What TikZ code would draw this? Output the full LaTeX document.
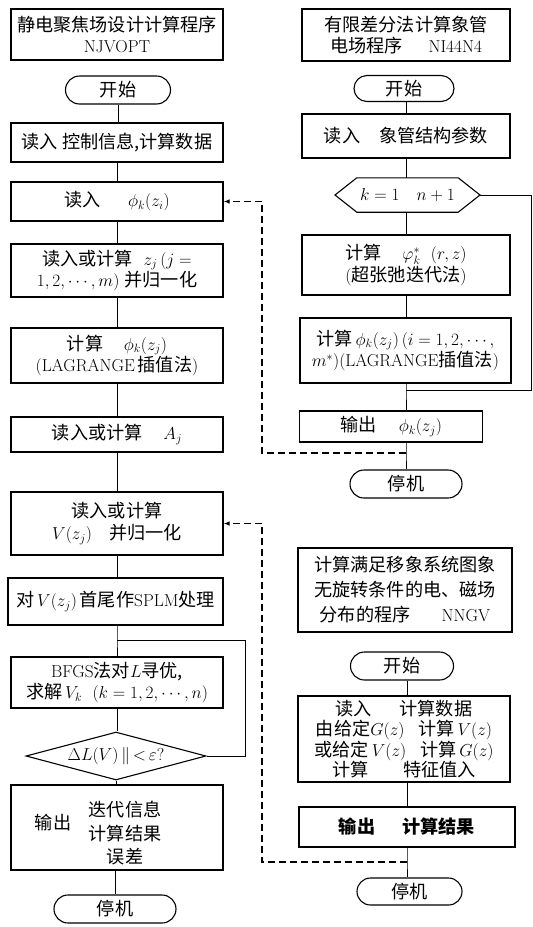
\documentclass[tikz,border=0pt]{standalone}
\usepackage{fontspec}
\newfontfamily\cjk{Noto Sans CJK SC}[Scale=1.05]
\newcommand\zh[1]{{\cjk #1}}
\usetikzlibrary{shapes.misc,shapes.geometric,arrows.meta}
\begin{document}
\begin{tikzpicture}[x=1pt,y=-1pt,
  every node/.style={font=\fontsize{17.28}{21.5}\selectfont},
  box/.style={draw,line width=1.1pt,rectangle,align=center,inner sep=0pt},
  term/.style={draw,line width=1.1pt,rounded rectangle,inner sep=0pt},
  conn/.style={line width=1pt},
  dashline/.style={line width=1.1pt,dash pattern=on 7pt off 4pt},
  tip/.style={-{Latex[length=6pt,width=4.5pt]}}
]
\useasboundingbox (0,0) rectangle (533,927);
% ---------------- left column ----------------
\node[box,minimum width=212,minimum height=51] (T1) at (117,34.5)
  {\zh{静电聚焦场设计计算程序}\\NJVOPT};
\node[term,minimum width=105,minimum height=28] (S1) at (118,90) {\zh{开始}};
\node[box,minimum width=212,minimum height=39] (B1) at (117,142.5)
  {\zh{读入\ 控制信息,计算数据}};
\node[box,minimum width=212,minimum height=39] (B2) at (117,201.5)
  {\zh{读入}\hspace{1.6em}$\phi_k(z_i)$};
\node[box,minimum width=212,minimum height=53] (B3) at (117,270.5)
  {\zh{读入或计算}\ \ $z_j\,(j=$\\$1,2,\cdots,m)$\ \zh{并归一化}};
\node[box,minimum width=212,minimum height=55] (B4) at (117,355.5)
  {\zh{计算}\hspace{1.2em}$\phi_k(z_j)$\\(LAGRANGE\,\zh{插值法})};
\node[box,minimum width=212,minimum height=35] (B5) at (117,434.5)
  {\zh{读入或计算}\hspace{1.2em}$A_j$};
\node[box,minimum width=212,minimum height=63] (B6) at (117,523.5)
  {\zh{读入或计算}\\$V(z_j)$\hspace{1em}\zh{并归一化}};
\node[box,minimum width=215,minimum height=47] (B7) at (115.5,601.5)
  {\zh{对}\,$V(z_j)$\,\zh{首尾作}SPLM\zh{处理}};
\node[box,minimum width=212,minimum height=51] (B8) at (117,682.5)
  {BFGS\zh{法对}$L$\zh{寻优,}\\\zh{求解}\,$V_k$\ \ $(k=1,2,\cdots,n)$};
\node[draw,line width=1.1pt,diamond,aspect=3.75,inner sep=0pt,
  minimum width=180,minimum height=48] (D1) at (116,756)
  {$\Delta L(V)\,\|\,{<}\,\varepsilon$?};
\node[box,minimum width=212,minimum height=85] (B9) at (117,827.5) {};
\node (B9a) at (53,823) {\zh{输出}};
\node[align=center,font=\fontsize{17.28}{23.5}\selectfont] (B9b) at (125,833.5)
  {\zh{迭代信息}\\\zh{计算结果}\\\zh{误差}};
\node[term,minimum width=122,minimum height=28] (S2) at (115,909) {\zh{停机}};

\coordinate (LJ) at (117,640);
\coordinate (LR) at (245,640);

\draw[conn] (S1.south) -- (S1.south |- B1.north);
\draw[conn] (B1.south) -- (B2.north);
\draw[conn] (B2.south) -- (B3.north);
\draw[conn] (B3.south) -- (B4.north);
\draw[conn] (B4.south) -- (B5.north);
\draw[conn] (B5.south) -- (B6.north);
\draw[conn] (B6.south) -- (B6.south |- B7.north);
\draw[conn] (B7.south -| LJ) -- (LJ) -- (B8.north);
\draw[conn] (B8.south) -- (B8.south |- D1.north);
\draw[conn] (D1.south) -- (D1.south |- B9.north);
\draw[conn] (B9.south -| S2.north) -- (S2.north);
\draw[conn] (D1.east) -| (LR) -- (LJ);

% ---------------- right column, program 1 ----------------
\node[box,minimum width=208,minimum height=52] (T2) at (406,35)
  {\zh{有限差分法计算象管}\\\zh{电场程序}\hspace{1.5em}NI44N4};
\node[term,minimum width=100,minimum height=26] (S3) at (404,88.5) {\zh{开始}};
\node[box,minimum width=208,minimum height=44] (B10) at (406,136)
  {\zh{读入}\hspace{1.1em}\zh{象管结构参数}};
\node[inner sep=0pt,minimum width=101,minimum height=34] (H1) at (407.5,195)
  {$k=1\quad n+1$};
\coordinate (H1e) at (480,195);
\coordinate (H1w) at (335,195);
\draw[line width=1.1pt] (H1.north west) -- (H1.north east) -- (H1e)
  -- (H1.south east) -- (H1.south west) -- (H1w) -- cycle;
\node[box,minimum width=208,minimum height=60] (B11) at (406,265)
  {\zh{计算}\hspace{1.2em}$\varphi_k^*$\ \ $(r,z)$\\(\zh{超张弛迭代法})};
\node[box,minimum width=211,minimum height=65] (B12) at (405.5,350.5)
  {\zh{计算}\,$\phi_k(z_j)\,(i=1,2,\cdots,$\\$m^*)$(LAGRANGE\zh{插值法})};
\node[box,minimum width=183,minimum height=31] (B13) at (391,426.5)
  {\zh{输出}\hspace{1.3em}$\phi_k(z_j)$};
\node[term,minimum width=112,minimum height=28] (S4) at (406,484) {\zh{停机}};

\coordinate (RJ) at (406,390);
\coordinate (RR) at (531,390);
\coordinate (DJ1) at (406,453);
\coordinate (DV1) at (262,453);

\draw[conn] (S3.south -| B10.north) -- (B10.north);
\draw[conn] (B10.south) -- (B10.south |- H1.north);
\draw[conn] (H1.south -| B11.north) -- (B11.north);
\draw[conn] (B11.south) -- (B11.south |- B12.north);
\draw[conn] (B12.south -| RJ) -- (RJ) -- (RJ |- B13.north);
\draw[conn] (DJ1 |- B13.south) -- (DJ1) -- (S4.north);
\draw[conn] (H1e) -| (RR) -- (RJ);

% ---------------- right column, program 2 ----------------
\node[box,minimum width=214,minimum height=84,font=\fontsize{17.28}{25}\selectfont] (T3) at (405,590)
  {\zh{计算满足移象系统图象}\\\zh{无旋转条件的电、磁场}\\\zh{分布的程序}\hspace{1.8em}NNGV};
\node[term,minimum width=103,minimum height=28] (S5) at (402,666) {\zh{开始}};
\node[box,minimum width=212,minimum height=86,font=\fontsize{17.28}{20.5}\selectfont] (B14) at (404,739)
  {\zh{读入}\hspace{1.6em}\zh{计算数据}\\
   \zh{由给定}$G(z)$\hspace{0.8em}\zh{计算}$\,V(z)$\\
   \zh{或给定}$\,V(z)$\hspace{0.8em}\zh{计算}$\,G(z)$\\
   \zh{计算}\hspace{2em}\zh{特征值入}};
\node[box,minimum width=216,minimum height=40] (B15) at (407,827)
  {{\cjk\bfseries 输出\hspace{1.5em}计算结果}};
\node[term,minimum width=105,minimum height=27] (S6) at (409.5,891.5) {\zh{停机}};

\coordinate (DJ2) at (407,862);
\coordinate (DV2) at (262,862);

\draw[conn] (S5.south -| DJ2) -- (DJ2 |- B14.north);
\draw[conn] (DJ2 |- B14.south) -- (DJ2 |- B15.north);
\draw[conn] (DJ2 |- B15.south) -- (DJ2) -- (DJ2 |- S6.north);

% ---------------- dashed data links ----------------
\draw[dashline,tip] (DJ1) -- (DV1) |- (B2.east);
\draw[dashline,tip] (DJ2) -- (DV2) |- (B6.east);
\end{tikzpicture}
\end{document}
